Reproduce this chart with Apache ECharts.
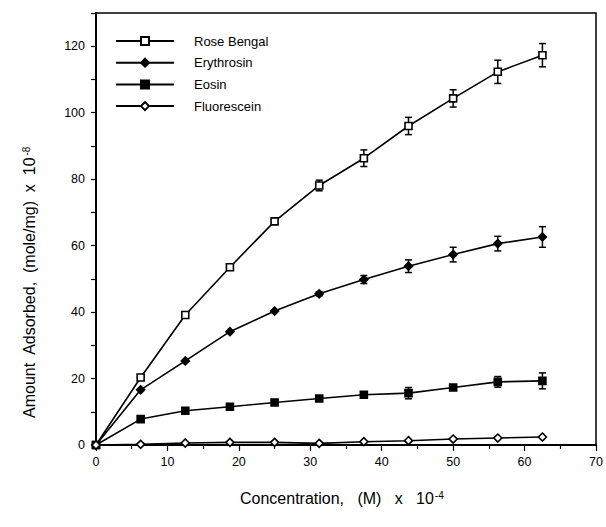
<!DOCTYPE html>
<html>
<head>
<meta charset="utf-8">
<script src="https://cdn.jsdelivr.net/npm/echarts@6/dist/echarts.min.js"></script>
<style>html,body{margin:0;padding:0;background:#fff;}#c{width:606px;height:527px;}</style>
</head>
<body>
<div id="c"></div>
<script>
// Data
var conc = [0, 6.25, 12.5, 18.75, 25, 31.25, 37.5, 43.75, 50, 56.25, 62.5];
var roseBengal   = [0, 20.3, 39.1, 53.5, 67.3, 78.1, 86.3, 96.0, 104.3, 112.3, 117.3];
var erythrosin   = [0, 16.6, 25.3, 34.1, 40.3, 45.5, 49.8, 53.8, 57.3, 60.6, 62.6];
var eosin        = [0, 7.8, 10.3, 11.5, 12.8, 14.0, 15.1, 15.6, 17.3, 19.0, 19.3];
var fluorescein  = [0, 0.2, 0.6, 0.8, 0.8, 0.5, 1.0, 1.3, 1.8, 2.1, 2.4];
var roseBengalErr  = [0, 0, 0, 0, 0.6, 1.6, 2.5, 2.6, 2.6, 3.5, 3.5];
var erythrosinErr  = [0, 0, 0, 0, 0, 0.6, 1.2, 1.9, 2.2, 2.2, 3.1];
var eosinErr       = [0, 0, 0, 0, 0, 0, 0.6, 1.7, 0.8, 1.6, 2.4];
var fluoresceinErr = [0, 0, 0, 0, 0, 0, 0, 0, 0, 0, 0];
var seriesNames = ['Rose Bengal', 'Erythrosin', 'Eosin', 'Fluorescein'];
var yTicks = [0, 20, 40, 60, 80, 100, 120];
var xTicks = [0, 10, 20, 30, 40, 50, 60, 70];

var FONT = 'Liberation Sans, Arial, Helvetica, sans-serif';
var values = [roseBengal, erythrosin, eosin, fluorescein];
var errs = [roseBengalErr, erythrosinErr, eosinErr, fluoresceinErr];
var symbols = ['rect', 'diamond', 'rect', 'diamond'];
var sizes = [7, 8, 7, 8];
var fills = ['#fff', '#000', '#000', '#fff'];

function pairs(v) { return conc.map(function (c, i) { return [c, v[i]]; }); }

var series = [];
values.forEach(function (v, k) {
  series.push({
    name: seriesNames[k], type: 'line', data: pairs(v),
    symbol: symbols[k], symbolSize: sizes[k], showAllSymbol: true,
    lineStyle: { color: '#000', width: 1.6 },
    itemStyle: { color: fills[k], borderColor: '#000', borderWidth: 1.6 },
    z: 3, animation: false
  });
});
errs.forEach(function (e, k) {
  var d = conc.map(function (c, i) { return [c, values[k][i], e[i]]; }).filter(function (r) { return r[2] > 0; });
  series.push({
    name: 'err' + k, type: 'custom', data: d, z: 2, animation: false,
    encode: { x: 0, y: 1 },
    renderItem: function (params, api) {
      var x = api.value(0), y = api.value(1), er = api.value(2);
      var hi = api.coord([x, y + er]), lo = api.coord([x, y - er]);
      var w = 3.5;
      var st = { stroke: '#000', lineWidth: 1.5 };
      return { type: 'group', children: [
        { type: 'line', shape: { x1: hi[0], y1: hi[1], x2: lo[0], y2: lo[1] }, style: st },
        { type: 'line', shape: { x1: hi[0] - w, y1: hi[1], x2: hi[0] + w, y2: hi[1] }, style: st },
        { type: 'line', shape: { x1: lo[0] - w, y1: lo[1], x2: lo[0] + w, y2: lo[1] }, style: st }
      ]};
    }
  });
});

var supStyle = { fontSize: 10, fontFamily: FONT, fill: '#000', verticalAlign: 'top', lineHeight: 16, padding: [0, 0, 7, 1] };
var chart = echarts.init(document.getElementById('c'), null, { renderer: 'svg' });
chart.setOption({
  animation: false,
  backgroundColor: '#fff',
  textStyle: { fontFamily: FONT },
  grid: { left: 96, right: 10, top: 13, bottom: 82, show: true, borderColor: '#000', borderWidth: 1.5, backgroundColor: 'transparent' },
  legend: {
    data: seriesNames, orient: 'vertical', left: 110, top: 29, padding: 5,
    itemWidth: 58, itemHeight: 10, itemGap: 7.7,
    textStyle: { fontFamily: FONT, fontSize: 13, color: '#000', lineHeight: 14, padding: [0, 0, 0, 15] }
  },
  xAxis: {
    type: 'value', min: 0, max: 70, interval: 10,
    axisLine: { show: true, onZero: false, lineStyle: { color: '#000', width: 2 } },
    axisTick: { show: true, inside: false, length: 6, lineStyle: { color: '#000', width: 1.2 } },
    minorTick: { show: true, splitNumber: 2, length: 4, lineStyle: { color: '#000', width: 1.2 } },
    splitLine: { show: false },
    axisLabel: { color: '#000', fontSize: 12.5, fontFamily: FONT, margin: 10,
      formatter: function (v) { return xTicks.indexOf(v) >= 0 ? String(v) : ''; } }
  },
  yAxis: {
    type: 'value', min: 0, max: 130, interval: 10,
    axisLine: { show: true, onZero: false, lineStyle: { color: '#000', width: 2 } },
    axisTick: { show: true, inside: false, length: 5, lineStyle: { color: '#000', width: 1.2 } },
    splitLine: { show: false },
    axisLabel: { color: '#000', fontSize: 12.5, fontFamily: FONT, margin: 11,
      formatter: function (v) { return yTicks.indexOf(v) >= 0 ? String(v) : ''; } }
  },
  graphic: [
    { type: 'text', left: 240, top: 490, silent: true,
      style: { text: 'Concentration,   (M)   x   10{s|-4}', font: '16px ' + FONT, fill: '#000',
        rich: { s: supStyle } } },
    { type: 'text', x: 21, y: 418, rotation: Math.PI / 2, silent: true,
      style: { text: 'Amount  Adsorbed,  (mole/mg)  x  10{s|-8}', font: '16px ' + FONT, fill: '#000', align: 'left', verticalAlign: 'top',
        rich: { s: supStyle } } }
  ],
  series: series
});
</script>
</body>
</html>
